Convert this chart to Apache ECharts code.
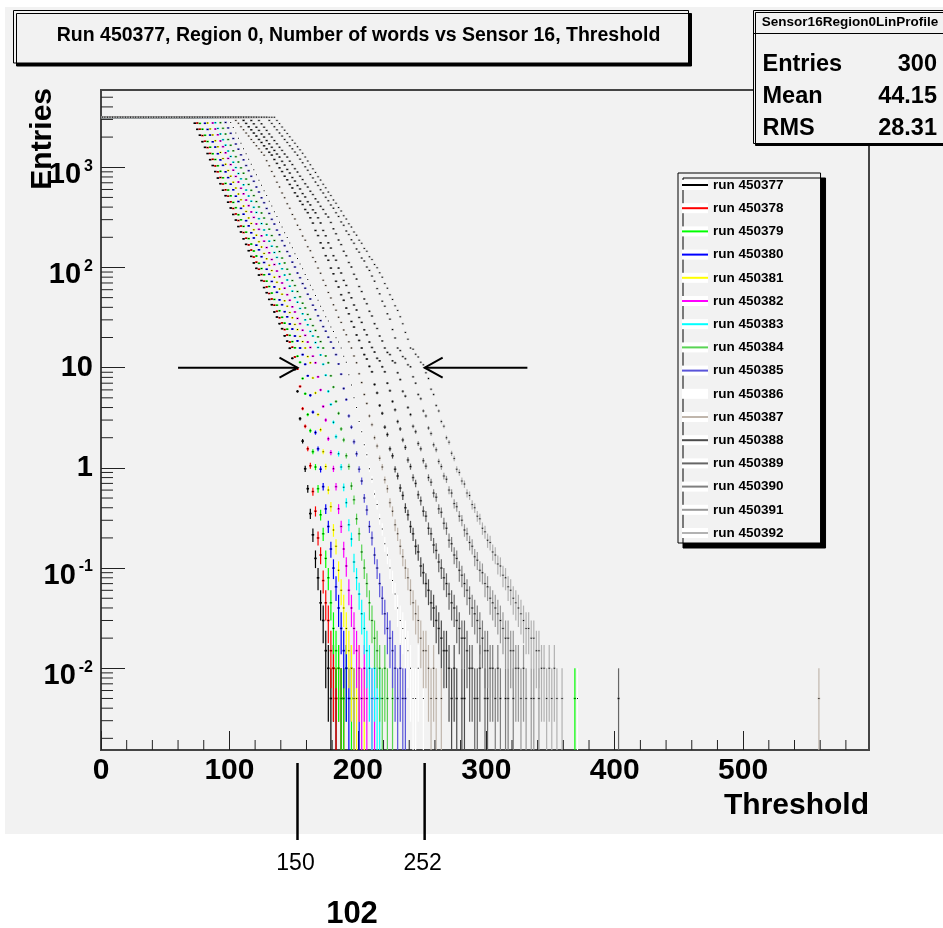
<!DOCTYPE html>
<html><head><meta charset="utf-8">
<script src="https://cdn.jsdelivr.net/npm/echarts@6/dist/echarts.min.js"></script>
<style>html,body{margin:0;padding:0;background:#fff}#c{width:943px;height:928px}</style>
</head><body><div id="c"></div>
<script>
// ---------------- data ----------------
const runNames = ['run 450377','run 450378','run 450379','run 450380','run 450381','run 450382','run 450383','run 450384',
  'run 450385','run 450386','run 450387','run 450388','run 450389','run 450390','run 450391','run 450392'];
const runColors = ['#000000','#ff0000','#00ff00','#0000ff','#ffff00','#ff00ff','#00ffff','#59d454',
  '#5954d9','#ffffff','#c0b6ac','#4c4c4c','#666666','#7f7f7f','#999999','#b2b2b2'];
const binWidth = 2;          // Threshold bin width
const firstBinCenter = 1;    // centre of the first bin
const nEvents = 200;         // events per threshold point (sets error bars)

// profile values per bin, starting at Threshold = 1 (0 = empty bin)
const run450377 = [
3150,3150,3150,3150,3150,3150,3150,3150,3150,3150,3150,3150,3150,3150,3150,3150,3150,3150,3150,3150,
3150,3150,3150,3150,3150,3150,3150,3150,3150,3150,3150,3150,3150,3150,3150,3150,
2750,2390,2090,1800,1580,1370,1190,1040,905,780,685,590,520,448,392,338,297,256,226,193,170,147,129,111,98,84,74,63,56,48,42.5,36,32,27.5,24.5,20.8,18.4,15.6,
12.4,9.6,5.8,3.1,1.85,0.98,0.62,0.35,0.215,0.125,0.08,0.045,0.03,0.015,0.01,
0.005,0.01,0.005,0,0.005];
const run450378 = [
3150,3150,3150,3150,3150,3150,3150,3150,3150,3150,3150,3150,3150,3150,3150,3150,3150,3150,3150,3150,
3150,3150,3150,3150,3150,3150,3150,3150,3150,3150,3150,3150,3150,3150,3150,3150,3150,
2760,2400,2070,1820,1570,1375,1200,1030,900,790,680,595,515,452,388,342,294,259,223,196,168,149,127,113,96,85,73,64,55,48.5,42,36.5,31.5,28,24,21.2,18,16,
12.8,9.7,6.5,3.9,2.6,1.55,1.05,0.58,0.37,0.2,0.135,0.075,0.045,0.03,0.015,0.01,
0.005,0.01,0.005,0.005];
const run450379 = [
3150,3150,3150,3150,3150,3150,3150,3150,3150,3150,3150,3150,3150,3150,3150,3150,3150,3150,3150,3150,
3150,3150,3150,3150,3150,3150,3150,3150,3150,3150,3150,3150,3150,3150,3150,3150,3150,3150,
2740,2395,2085,1805,1585,1365,1195,1035,910,785,690,592,518,446,395,336,299,257,225,194,171,146,130,110,97.5,84.5,73,64.5,55.5,48,42,37,31.8,27.8,24.2,21,18.2,15.8,
13,11.3,7.8,5.5,3.4,2.35,1.45,1.02,0.62,0.34,0.22,0.125,0.08,0.045,0.025,0.015,0.01,
0.005,0.005,0.01,0,0.005];
const run450380 = [
3150,3150,3150,3150,3150,3150,3150,3150,3150,3150,3150,3150,3150,3150,3150,3150,3150,3150,3150,3150,
3150,3150,3150,3150,3150,3150,3150,3150,3150,3150,3150,3150,3150,3150,3150,3150,3150,3150,3150,3150,
2745,2385,2095,1795,1590,1365,1185,1045,900,788,678,596,514,455,389,340,293,260,222,197,167,150,128,112,96,85.5,72.5,64,56.5,47.5,42.5,36.2,32.2,27.3,24.3,20.7,18.5,15.7,
13.5,10.8,8.3,5.3,3.6,2.25,1.55,0.97,0.65,0.39,0.26,0.155,0.1,0.065,0.04,0.025,0.015,0.01,
0.005,0.01,0.005,0,0.005];
const run450381 = [
3150,3150,3150,3150,3150,3150,3150,3150,3150,3150,3150,3150,3150,3150,3150,3150,3150,3150,3150,3150,
3150,3150,3150,3150,3150,3150,3150,3150,3150,3150,3150,3150,3150,3150,3150,3150,3150,3150,3150,3150,3150,
2760,2415,2100,1840,1600,1405,1220,1070,928,815,708,620,540,474,410,362,312,275,238,210,181,160,138,122,105,93,80,71,61,54,46.5,41,35.5,31.5,27,24,20.5,18.2,15.7,
12.9,11.2,7.9,5.6,3.4,2.4,1.45,1.03,0.6,0.41,0.24,0.165,0.095,0.06,0.04,0.025,0.015,0.01,
0.005,0.005,0.01,0,0.005];
const run450382 = [
3150,3150,3150,3150,3150,3150,3150,3150,3150,3150,3150,3150,3150,3150,3150,3150,3150,3150,3150,3150,
3150,3150,3150,3150,3150,3150,3150,3150,3150,3150,3150,3150,3150,3150,3150,3150,3150,3150,3150,3150,3150,3150,3150,
2765,2405,2108,1832,1605,1395,1225,1063,935,810,712,617,543,470,414,358,316,272,240,207,183,158,140,120,107,92,81,70,62,53.5,47,40.5,36,31,27.5,23.6,21,18,15.9,
13,11.2,8.1,6.0,4.1,3.0,1.95,1.42,0.98,0.65,0.39,0.26,0.155,0.105,0.06,0.04,0.025,0.015,0.01,
0.005,0.01,0.005,0,0.005,0.005];
const run450383 = [
3150,3150,3150,3150,3150,3150,3150,3150,3150,3150,3150,3150,3150,3150,3150,3150,3150,3150,3150,3150,
3150,3150,3150,3150,3150,3150,3150,3150,3150,3150,3150,3150,3150,3150,3150,3150,3150,3150,3150,3150,3150,3150,3150,3150,
2780,2440,2150,1885,1662,1450,1282,1122,992,866,766,668,592,516,458,398,354,307,274,237,211,183,163,141,126,109,97,84,75,65,58,50,45,39,34.5,30,26.8,23,20.7,17.8,15.9,
13.4,10.8,8.4,5.8,4.3,2.85,2.05,1.38,1.02,0.64,0.45,0.27,0.195,0.115,0.08,0.055,0.035,0.025,0.015,0.01,
0.005,0.01,0.005,0.005];
const run450384 = [
3150,3150,3150,3150,3150,3150,3150,3150,3150,3150,3150,3150,3150,3150,3150,3150,3150,3150,3150,3150,
3150,3150,3150,3150,3150,3150,3150,3150,3150,3150,3150,3150,3150,3150,3150,3150,3150,3150,3150,3150,3150,3150,3150,3150,3150,3150,
2785,2445,2145,1890,1657,1458,1276,1128,986,872,762,674,588,521,454,402,350,311,270,241,208,186,161,144,124,111,96,85.5,74,66,57.5,51,44,39.5,34,30.5,26.3,23.5,20.3,18.2,15.7,
13.1,11.2,8.3,6.4,4.6,3.5,2.45,1.9,1.32,1.03,0.66,0.48,0.31,0.22,0.145,0.1,0.07,0.045,0.03,0.02,0.015,0.01,
0.005,0.01,0.005,0,0.005];
const run450385 = [
3150,3150,3150,3150,3150,3150,3150,3150,3150,3150,3150,3150,3150,3150,3150,3150,3150,3150,3150,3150,
3150,3150,3150,3150,3150,3150,3150,3150,3150,3150,3150,3150,3150,3150,3150,3150,3150,3150,3150,3150,3150,3150,3150,3150,3150,3150,3150,3150,
2800,2470,2180,1935,1705,1515,1330,1185,1040,925,812,724,635,566,496,443,388,346,302,271,236,212,185,165,144,130,113,101,88,79,69,62,54,48.5,42,37.8,33,29.5,25.7,23.1,20.1,18,15.7,
13.5,10.9,8.6,6.2,4.8,3.3,2.55,1.82,1.38,0.97,0.74,0.5,0.38,0.26,0.2,0.135,0.1,0.07,0.05,0.035,0.025,0.02,0.015,0.01,
0.005,0.01,0.005,0.005];
const run450386 = [
3150,3150,3150,3150,3150,3150,3150,3150,3150,3150,3150,3150,3150,3150,3150,3150,3150,3150,3150,3150,
3150,3150,3150,3150,3150,3150,3150,3150,3150,3150,3150,3150,3150,3150,3150,3150,3150,3150,3150,3150,
3150,3150,3150,3150,3150,3150,3150,3150,3150,3150,
2800,2490,2200,1950,1735,1530,1365,1205,1072,945,843,742,663,584,521,458,410,360,323,282,254,222,199,175,157,137,123,108,97,85,76,66.5,60,52.5,47,41,37,32.3,29.2,25.4,22.9,19.9,18,15.7,
13,11.3,8.5,6.7,5.0,4.0,2.9,2.3,1.7,1.35,0.98,0.77,0.55,0.43,0.31,0.245,0.175,0.135,0.1,0.075,0.055,0.04,0.03,0.025,0.02,0.015,0.01,
0.005,0.005,0.01,0,0.005];
const run450387 = [
3150,3150,3150,3150,3150,3150,3150,3150,3150,3150,3150,3150,3150,3150,3150,3150,3150,3150,3150,3150,
3150,3150,3150,3150,3150,3150,3150,3150,3150,3150,3150,3150,3150,3150,3150,3150,3150,3150,3150,3150,
3150,3150,3150,3150,3150,3150,3150,3150,3150,3150,3150,3150,
2933,2741,2537,2364,2194,2046,1893,1766,1637,1528,1412,1321,1163,1034,908,811,709,635,554,497,433,389,338,305,264,239,206,187,161,147,126,114,98.5,87.5,74.5,66,56.3,49.7,42.4,37.5,31.8,28.3,23.8,21.3,18.1,15.7,
13.1,11.2,8.7,7.1,5.4,4.4,3.3,2.7,2.0,1.65,1.25,1.02,0.76,0.62,0.45,0.37,0.27,0.22,0.165,0.13,0.1,0.08,0.06,0.045,0.035,0.03,0.02,0.015,0.015,0.01,
0.005,0.01,0.005,0,0.005];
const run450388 = [
3150,3150,3150,3150,3150,3150,3150,3150,3150,3150,3150,3150,3150,3150,3150,3150,3150,3150,3150,3150,
3150,3150,3150,3150,3150,3150,3150,3150,3150,3150,3150,3150,3150,3150,3150,3150,3150,3150,3150,3150,
3150,3150,3150,3150,3150,3150,3150,3150,3150,3150,3150,3150,3150,3150,3150,
2935,2740,2536,2364,2193,2047,1892,1767,1636,1529,1411,1322,1195,1093,987,906,814,749,674,621,556,513,459,425,379,352,313,277,234,208,176,156,131,118,98.5,86.5,72.8,63.8,53.5,47,39.3,34.5,28.9,25.4,21.2,18.7,15.7,
13.5,12.2,10.3,9.1,6.8,5.6,4.2,3.5,2.55,2.15,1.55,1.32,0.97,0.83,0.63,0.53,0.4,0.34,0.26,0.22,0.165,0.145,0.105,0.09,0.07,0.06,0.045,0.04,0.03,0.025,0.02,0.015,0.015,0.01,
0.005,0.01,0.005,0,0.005,0.005];
const run450389 = [
3150,3150,3150,3150,3150,3150,3150,3150,3150,3150,3150,3150,3150,3150,3150,3150,3150,3150,3150,3150,
3150,3150,3150,3150,3150,3150,3150,3150,3150,3150,3150,3150,3150,3150,3150,3150,3150,3150,3150,3150,
3150,3150,3150,3150,3150,3150,3150,3150,3150,3150,3150,3150,3150,3150,3150,3150,3150,3150,
2928,2714,2509,2331,2150,1999,1846,1713,1582,1473,1355,1263,1145,1051,951,875,790,728,657,607,546,505,453,421,376,351,313,278,234,207,176,156,131,118,98.5,88,74.3,66.2,56,49.8,42.2,37.6,31.7,28.3,23.9,21.3,18,15.9,
14.3,12.4,11.7,10.2,9.1,7.0,5.9,4.6,3.8,2.9,2.45,1.9,1.6,1.2,1.03,0.8,0.7,0.54,0.47,0.37,0.33,0.25,0.22,0.17,0.15,0.115,0.1,0.08,0.07,0.055,0.045,0.04,0.03,0.025,0.02,0.02,0.015,0.01,0.01,
0.005,0.005,0.01,0,0.005,0.005];
const run450390 = [
3150,3150,3150,3150,3150,3150,3150,3150,3150,3150,3150,3150,3150,3150,3150,3150,3150,3150,3150,3150,
3150,3150,3150,3150,3150,3150,3150,3150,3150,3150,3150,3150,3150,3150,3150,3150,3150,3150,3150,3150,
3150,3150,3150,3150,3150,3150,3150,3150,3150,3150,3150,3150,3150,3150,3150,3150,3150,3150,3150,3150,3150,
2928,2714,2508,2332,2150,1998,1846,1714,1582,1473,1355,1262,1151,1063,968,895,815,753,685,634,576,534,484,450,407,379,342,318,281,243,217,188,169,145,131,112,101,85.5,76.5,64.5,57.5,48.5,43.5,36.5,32.8,27.5,24.6,20.7,18.5,15.7,
14.2,13.5,11.7,11.2,8.9,7.6,5.8,5.2,4.0,3.4,2.6,2.3,1.75,1.55,1.18,1.04,0.8,0.72,0.56,0.51,0.39,0.36,0.28,0.25,0.19,0.175,0.135,0.125,0.095,0.085,0.07,0.06,0.05,0.04,0.035,0.03,0.025,0.02,0.015,0.015,0.01,0.01,
0.005,0.01,0.005,0,0.005,0.005,0,0.005];
const run450391 = [
3150,3150,3150,3150,3150,3150,3150,3150,3150,3150,3150,3150,3150,3150,3150,3150,3150,3150,3150,3150,
3150,3150,3150,3150,3150,3150,3150,3150,3150,3150,3150,3150,3150,3150,3150,3150,3150,3150,3150,3150,
3150,3150,3150,3150,3150,3150,3150,3150,3150,3150,3150,3150,3150,3150,3150,3150,3150,3150,3150,3150,
3150,3150,3150,3150,3150,
2935,2738,2538,2363,2195,2045,1894,1769,1638,1527,1416,1321,1205,1110,1011,932,848,783,711,658,597,553,501,464,420,390,352,323,285,263,231,213,189,174,153,142,124,116,101,93.5,82,73,61.5,54.5,46,41,34.5,30.5,24,19.8,15.7,
14.8,12.9,12.3,10.7,10.2,8.1,7.0,5.4,4.9,3.7,3.3,2.5,2.2,1.7,1.52,1.16,1.03,0.83,0.77,0.6,0.56,0.44,0.41,0.33,0.3,0.24,0.22,0.18,0.165,0.13,0.12,0.095,0.09,0.07,0.065,0.05,0.045,0.04,0.035,0.03,0.025,0.02,0.02,0.015,0.015,0.01,0.01,
0.005,0.01,0.005,0,0.005,0.005,0,0.005];
const run450392 = [
3150,3150,3150,3150,3150,3150,3150,3150,3150,3150,3150,3150,3150,3150,3150,3150,3150,3150,3150,3150,
3150,3150,3150,3150,3150,3150,3150,3150,3150,3150,3150,3150,3150,3150,3150,3150,3150,3150,3150,3150,
3150,3150,3150,3150,3150,3150,3150,3150,3150,3150,3150,3150,3150,3150,3150,3150,3150,3150,3150,3150,
3150,3150,3150,3150,3150,3150,3150,3150,
2930,2725,2520,2342,2170,2016,1862,1733,1604,1492,1376,1265,1152,1060,965,888,806,744,675,624,565,522,472,437,396,366,329,304,273,253,226,210,187,174,155,145,128,120,107,99.5,88.5,80,69,62,53.5,48,41.5,37.3,32.3,27.5,22.5,19.2,15.7,
15.3,13.6,12.8,11.3,10.7,8.9,7.8,6.1,5.4,4.2,3.7,2.9,2.6,2.0,1.8,1.4,1.24,0.97,0.9,0.74,0.69,0.56,0.53,0.43,0.4,0.33,0.31,0.25,0.23,0.19,0.18,0.145,0.135,0.11,0.105,0.085,0.08,0.065,0.06,0.05,0.045,0.04,0.035,0.03,0.025,0.025,0.02,0.02,0.015,0.015,0.01,0.01,
0.005,0.01,0.005,0.01,0.005,0,0.005];
const runValues = [run450377,run450378,run450379,run450380,run450381,run450382,run450383,run450384,
  run450385,run450386,run450387,run450388,run450389,run450390,run450391,run450392];
// isolated single-entry bins far in the tail: [run index, threshold, value]
const strayEntries = [[2,369,0.005],[9,371,0.005],[12,403,0.005],[10,559,0.005]];

// axis ranges
const xMin = 0, xMax = 598, xStep = 100;
const yMin = 0.00153, yMax = 5900;
// annotations
const arrowLevel = 10;
const markerX = [153, 252];
const markerLabels = ['150', '252'];
const arrowTails = [60, 332];
const titleText = 'Run 450377, Region 0, Number of words vs Sensor 16, Threshold';
const statsTitle = 'Sensor16Region0LinProfile';
const statsRows = [['Entries','300'],['Mean','44.15'],['RMS','28.31']];

// ---------------- chart ----------------
const FONT = '"Liberation Sans", Arial, Helvetica, sans-serif';
const yMinorTicks = [];
for (let e = -3; e <= 3; e++) for (let m = 2; m <= 9; m++) { const v = m * Math.pow(10, e); if (v > yMin && v < yMax) yMinorTicks.push(v); }
const xMinorTicks = [];
for (let v = 20; v < xMax; v += 20) if (v % 100 !== 0) xMinorTicks.push(v);

function pointRenderer(color) {
  return function (params, api) {
    const x = api.value(0), y = api.value(1);
    const cs = params.coordSys;
    const c = api.coord([x, y]);
    const l = api.coord([x - binWidth / 2, y])[0];
    const r = api.coord([x + binWidth / 2, y])[0];
    const err = Math.sqrt(y / nEvents);
    const top = api.coord([x, y + err])[1];
    const bottomEdge = cs.y + cs.height;
    const low = (y - err) > 0 ? Math.min(api.coord([x, y - err])[1], bottomEdge) : bottomEdge;
    return { type: 'group', children: [
      { type: 'line', shape: { x1: c[0], y1: top, x2: c[0], y2: low }, style: { stroke: color, lineWidth: 1.2 } },
      { type: 'line', shape: { x1: l, y1: c[1], x2: r, y2: c[1] }, style: { stroke: color, lineWidth: 1.6 } },
      { type: 'rect', shape: { x: c[0] - 0.5, y: c[1] - 0.5, width: 1, height: 1 }, style: { fill: '#000' } }
    ]};
  };
}

const series = runValues.map((vals, i) => {
  const data = [];
  vals.forEach((v, k) => { if (v > 0) data.push([firstBinCenter + k * binWidth, v]); });
  strayEntries.forEach(s => { if (s[0] === i) data.push([s[1], s[2]]); });
  return {
    type: 'custom', name: runNames[i], xAxisIndex: 0, yAxisIndex: 0,
    data: data, encode: { x: 0, y: 1 }, renderItem: pointRenderer(runColors[i]),
    itemStyle: { color: runColors[i] }, silent: true, animation: false, z: 2
  };
});

// y minor ticks (ROOT style 2..9 x 10^n)
series.push({
  type: 'custom', name: 'yMinor', xAxisIndex: 0, yAxisIndex: 0, silent: true, animation: false, z: 3,
  data: yMinorTicks.map(v => [xMin, v]), encode: { x: 0, y: 1 },
  renderItem: (params, api) => {
    const p = api.coord([xMin, api.value(1)]);
    return { type: 'line', shape: { x1: params.coordSys.x, y1: p[1], x2: params.coordSys.x + 12, y2: p[1] }, style: { stroke: '#222', lineWidth: 1 } };
  }
});
// x minor ticks
series.push({
  type: 'custom', name: 'xMinor', xAxisIndex: 0, yAxisIndex: 0, silent: true, animation: false, z: 3,
  data: xMinorTicks.map(v => [v, yMin]), encode: { x: 0, y: 1 },
  renderItem: (params, api) => {
    const p = api.coord([api.value(0), yMin]);
    const b = params.coordSys.y + params.coordSys.height;
    return { type: 'line', shape: { x1: p[0], y1: b, x2: p[0], y2: b - 10 }, style: { stroke: '#222', lineWidth: 1 } };
  }
});
// arrows at the 10-entries level
series.push({
  type: 'custom', name: 'arrows', xAxisIndex: 0, yAxisIndex: 0, silent: true, animation: false, z: 5, clip: false,
  data: markerX.map((x, i) => [arrowTails[i], x, arrowLevel]), encode: { x: [0, 1], y: 2 },
  renderItem: (params, api) => {
    const t = api.coord([api.value(0), api.value(2)]);
    const h = api.coord([api.value(1), api.value(2)]);
    const d = Math.sign(h[0] - t[0]);
    const st = { stroke: '#000', lineWidth: 2 };
    return { type: 'group', children: [
      { type: 'line', shape: { x1: t[0], y1: t[1], x2: h[0], y2: h[1] }, style: st },
      { type: 'polyline', shape: { points: [[h[0] - d * 18, h[1] - 10], [h[0], h[1]], [h[0] - d * 18, h[1] + 10]] }, style: Object.assign({ fill: null }, st) }
    ]};
  }
});
// marker lines and labels below the axis
series.push({
  type: 'custom', name: 'markers', xAxisIndex: 0, yAxisIndex: 0, silent: true, animation: false, z: 5, clip: false,
  data: markerX.map(x => [x, yMin]), encode: { x: 0, y: 1 },
  renderItem: (params, api) => {
    const p = api.coord([api.value(0), yMin]);
    const b = params.coordSys.y + params.coordSys.height;
    return { type: 'group', children: [
      { type: 'line', shape: { x1: p[0], y1: b + 13, x2: p[0], y2: b + 90 }, style: { stroke: '#000', lineWidth: 2.5 } },
      { type: 'text', style: { x: p[0] - 2, y: b + 114, text: markerLabels[params.dataIndex], font: '23px ' + FONT, fill: '#000', align: 'center', verticalAlign: 'middle' } }
    ]};
  }
});

function yLabel(v) {
  const e = Math.round(Math.log10(v));
  if (e === 0) return '{b|1}';
  if (e === 1) return '{b|10}';
  return '{p|10}{s|' + e + '}';
}

const legendCommon = {
  orient: 'vertical', left: 678, top: 173, padding: [4, 37, 2, 4], itemGap: 7.2,
  itemWidth: 26, selectedMode: false, data: runNames
};

const option = {
  animation: false,
  backgroundColor: '#ffffff',
  grid: { left: 101, top: 90, right: 74, bottom: 178, show: true, borderColor: '#444', borderWidth: 2, backgroundColor: 'transparent', outerBoundsMode: 'none', containLabel: false },
  xAxis: [{
    type: 'value', min: xMin, max: xMax, interval: xStep, position: 'bottom',
    axisLine: { show: true, onZero: false, lineStyle: { color: '#444', width: 2 } },
    axisTick: { show: true, inside: true, length: 19, lineStyle: { color: '#222', width: 1 } },
    minorTick: { show: false }, splitLine: { show: false },
    axisLabel: { showMaxLabel: false, fontSize: 30, fontWeight: 'bold', color: '#000', margin: 6, fontFamily: FONT },
    name: 'Threshold', nameLocation: 'end', nameGap: 0, nameMoveOverlap: false,
    nameTextStyle: { fontSize: 30, fontWeight: 'bold', color: '#000', fontFamily: FONT, align: 'right', verticalAlign: 'top', padding: [41, 0, 0, 0] }
  }],
  yAxis: [{
    type: 'log', logBase: 10, min: yMin, max: yMax, position: 'left',
    axisLine: { show: true, onZero: false, lineStyle: { color: '#444', width: 2 } },
    axisTick: { show: true, inside: true, length: 24, lineStyle: { color: '#222', width: 1 } },
    minorTick: { show: false }, splitLine: { show: false },
    axisLabel: {
      showMinLabel: false, showMaxLabel: false, margin: 8, formatter: yLabel, color: '#000',
      rich: {
        b: { fontSize: 29, fontWeight: 'bold', fontFamily: FONT, lineHeight: 30, verticalAlign: 'middle', color: '#000' },
        p: { fontSize: 29, fontWeight: 'bold', fontFamily: FONT, lineHeight: 30, padding: [16, 0, 0, 0], verticalAlign: 'middle', color: '#000' },
        s: { fontSize: 16, fontWeight: 'bold', fontFamily: FONT, lineHeight: 16, padding: [0, 0, 2, 3], verticalAlign: 'middle', color: '#000' }
      }
    }
  }],
  legend: [
    Object.assign({}, legendCommon, {
      id: 'legBox', z: 6, itemHeight: 10, icon: 'rect',
      backgroundColor: '#f2f2f2', borderColor: '#000', borderWidth: 1,
      shadowColor: '#000', shadowBlur: 0, shadowOffsetX: 5, shadowOffsetY: 5,
      textStyle: { fontSize: 13.5, fontWeight: 'bold', fontFamily: FONT, color: 'rgba(0,0,0,0)', lineHeight: 16 },
      data: runNames.map(n => ({ name: n, itemStyle: { color: '#ffffff', borderWidth: 0 } }))
    }),
    Object.assign({}, legendCommon, {
      id: 'legLines', z: 7, itemHeight: 2, icon: 'rect', backgroundColor: 'transparent', borderWidth: 0,
      textStyle: { fontSize: 13.5, fontWeight: 'bold', fontFamily: FONT, color: '#000', lineHeight: 16 },
      data: runNames.map((n, i) => ({ name: n, itemStyle: { color: runColors[i], borderWidth: 0 } }))
    })
  ],
  graphic: [
    { type: 'rect', z: -100, silent: true, shape: { x: 5, y: 7, width: 938, height: 827 }, style: { fill: '#f2f2f2' } },
    { type: 'group', z: 50, silent: true, children: [
      { type: 'rect', shape: { x: 13.5, y: 10.5, width: 675, height: 52.5 }, style: { fill: '#f2f2f2', stroke: '#000', lineWidth: 1, shadowColor: '#000', shadowBlur: 0, shadowOffsetX: 3, shadowOffsetY: 3 } },
      { type: 'text', style: { x: 358.5, y: 36, text: titleText, font: 'bold 19.5px ' + FONT, fill: '#000', align: 'center', verticalAlign: 'middle' } }
    ]},
    { type: 'group', z: 50, silent: true, children: [
      { type: 'rect', shape: { x: 753.5, y: 10.5, width: 200, height: 133 }, style: { fill: '#f2f2f2', stroke: '#000', lineWidth: 1, shadowColor: '#000', shadowBlur: 0, shadowOffsetX: 2, shadowOffsetY: 2 } },
      { type: 'line', shape: { x1: 753.5, y1: 33.5, x2: 943, y2: 33.5 }, style: { stroke: '#000', lineWidth: 1 } },
      { type: 'text', style: { x: 850, y: 22, text: statsTitle, font: 'bold 13.5px ' + FONT, fill: '#000', align: 'center', verticalAlign: 'middle' } }
    ].concat(statsRows.flatMap((row, i) => [
      { type: 'text', style: { x: 762.5, y: 65 + i * 31.7, text: row[0], font: 'bold 23.5px ' + FONT, fill: '#000', align: 'left', verticalAlign: 'middle' } },
      { type: 'text', style: { x: 937, y: 65 + i * 31.7, text: row[1], font: 'bold 23.5px ' + FONT, fill: '#000', align: 'right', verticalAlign: 'middle' } }
    ]))},
    { type: 'text', z: 50, silent: true, x: 43, y: 88, rotation: Math.PI / 2, style: { x: 0, y: 0, text: 'Entries', font: 'bold 30px ' + FONT, fill: '#000', align: 'right', verticalAlign: 'middle' } },
    { type: 'text', z: 50, silent: true, style: { x: 352, y: 914, text: String(Number(markerLabels[1]) - Number(markerLabels[0])), font: 'bold 31px ' + FONT, fill: '#000', align: 'center', verticalAlign: 'middle' } }
  ],
  series: series
};

const chart = echarts.init(document.getElementById('c'), null, { renderer: 'canvas' });
chart.setOption(option);
</script>
</body></html>
